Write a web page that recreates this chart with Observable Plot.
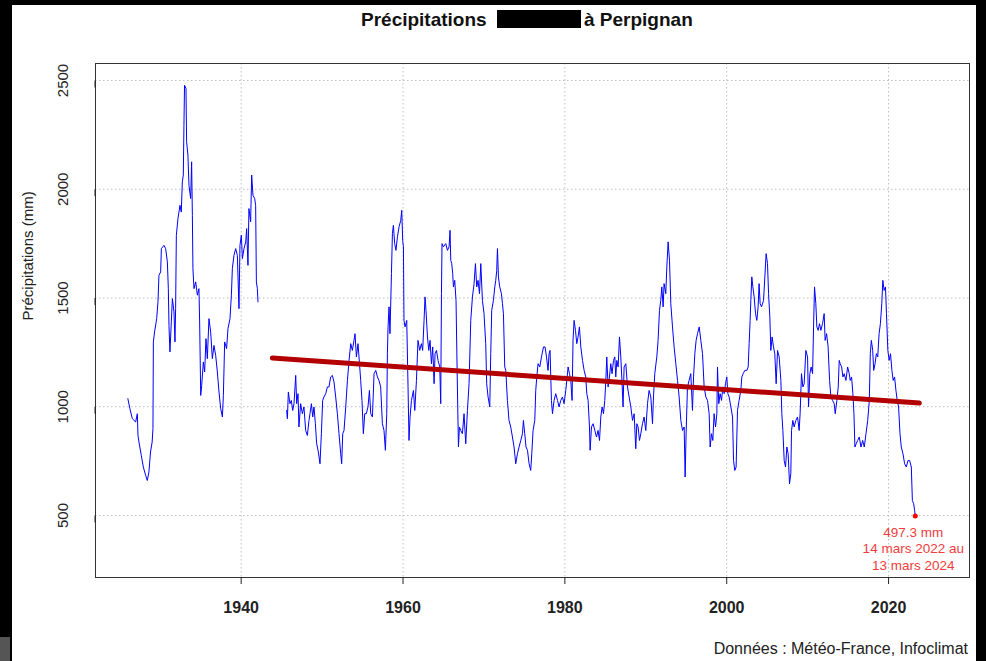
<!DOCTYPE html>
<html>
<head>
<meta charset="utf-8">
<script src="https://cdn.jsdelivr.net/npm/d3@7"></script>
<script src="https://cdn.jsdelivr.net/npm/@observablehq/plot@0.6"></script>
<style>
  html, body { margin: 0; padding: 0; }
  body { width: 986px; height: 661px; background: #000; position: relative; overflow: hidden;
         font-family: "Liberation Sans", Arial, Helvetica, sans-serif; }
  #panel { position: absolute; left: 12px; top: 5px; width: 964px; height: 656px; background: #fff; }
  #chart { position: absolute; left: 0; top: 0; }
  .t { position: absolute; font-weight: bold; font-size: 19px; line-height: 19px; color: #111; white-space: nowrap; }
  #box { position: absolute; background: #000; }
  #caption { position: absolute; font-size: 16px; line-height: 16px; color: #222; white-space: nowrap; }
  #corner { position: absolute; left: 0; top: 637px; width: 10px; height: 24px; background: #555; }
</style>
</head>
<body>
<div id="panel">
  <div id="chart"></div>
</div>
<div class="t" id="t1" style="left:361px; top:10px;"></div>
<div id="box" style="left:497px; top:10px; width:84px; height:18px;"></div>
<div class="t" id="t2" style="left:584px; top:10px;"></div>
<div id="caption" style="right:18px; top:641px;"></div>
<div id="corner"></div>
<script>
// ---- Data ----
const titleLeft = "Précipitations";
const titleRight = "à Perpignan";
const captionText = "Données : Météo-France, Infoclimat";
const yLabel = "Précipitations (mm)";
const xTicks = [1940, 1960, 1980, 2000, 2020];
const yTicks = [500, 1000, 1500, 2000, 2500];
const annotationLines = ["497.3 mm", "14 mars 2022 au", "13 mars 2024"];

// rolling 2-year precipitation (mm), first segment 1926–1942
const serie1 = [
[1926.0,1037],[1926.25,991],[1926.55,945],[1926.96,930],[1927.17,968],[1927.25,868],[1927.37,838],[1927.66,776],[1927.91,723],[1928.2,684],[1928.4,661],[1928.6,700],[1928.8,792],[1929.0,838],[1929.1,900],[1929.15,1298],[1929.3,1344],[1929.56,1405],[1929.72,1482],[1929.84,1604],[1930.05,1620],[1930.14,1727],[1930.46,1742],[1930.67,1727],[1930.88,1666],[1931.0,1543],[1931.08,1374],[1931.2,1252],[1931.37,1390],[1931.5,1497],[1931.7,1436],[1931.82,1298],[1931.9,1451],[1931.99,1788],[1932.19,1865],[1932.44,1926],[1932.6,1895],[1932.73,2034],[1932.85,2065],[1932.93,2294],[1933.0,2478],[1933.18,2463],[1933.26,2218],[1933.42,2157],[1933.55,2018],[1933.76,1957],[1933.88,2126],[1933.97,1880],[1934.04,1635],[1934.17,1543],[1934.38,1574],[1934.59,1513],[1934.78,1543],[1934.87,1390],[1935.0,1052],[1935.12,1098],[1935.33,1206],[1935.49,1160],[1935.65,1313],[1935.82,1221],[1936.02,1405],[1936.23,1344],[1936.44,1221],[1936.64,1282],[1936.85,1236],[1937.06,1160],[1937.26,1068],[1937.47,991],[1937.68,953],[1937.8,1052],[1937.96,1298],[1938.2,1267],[1938.37,1359],[1938.62,1405],[1938.79,1513],[1938.91,1635],[1939.11,1696],[1939.32,1727],[1939.53,1696],[1939.73,1451],[1939.85,1742],[1940.02,1788],[1940.15,1681],[1940.35,1727],[1940.56,1758],[1940.68,1819],[1940.84,1650],[1940.96,1911],[1941.17,1850],[1941.3,2065],[1941.46,1972],[1941.67,1957],[1941.79,1926],[1941.88,1574],[1942.0,1543],[1942.08,1482]
];

// second segment 1945–2024
const serie2 = [
[1945.62,983],[1945.71,945],[1945.83,1068],[1946.03,1014],[1946.2,1029],[1946.37,983],[1946.53,1014],[1946.74,1144],[1946.86,1014],[1947.02,1060],[1947.14,907],[1947.35,1014],[1947.56,968],[1947.76,999],[1947.97,891],[1948.18,868],[1948.38,937],[1948.5,968],[1948.68,1014],[1948.84,953],[1949.0,999],[1949.17,922],[1949.33,830],[1949.54,792],[1949.74,738],[1949.91,876],[1950.07,1029],[1950.23,1045],[1950.45,1060],[1950.65,1091],[1950.85,1091],[1951.06,1137],[1951.27,1144],[1951.47,1114],[1951.68,1045],[1951.89,968],[1952.09,876],[1952.3,784],[1952.42,738],[1952.55,876],[1952.71,891],[1952.92,999],[1953.13,1121],[1953.33,1213],[1953.54,1290],[1953.74,1259],[1953.94,1305],[1954.07,1336],[1954.24,1229],[1954.44,1290],[1954.65,1183],[1954.77,1121],[1954.93,1029],[1955.1,876],[1955.27,968],[1955.47,968],[1955.67,999],[1955.85,1075],[1956.01,968],[1956.22,953],[1956.42,1152],[1956.63,1167],[1956.84,1137],[1957.03,1121],[1957.24,1091],[1957.45,922],[1957.65,891],[1957.82,800],[1957.99,968],[1958.07,1244],[1958.15,1367],[1958.27,1459],[1958.39,1336],[1958.57,1612],[1958.69,1796],[1958.81,1834],[1958.97,1750],[1959.13,1719],[1959.31,1781],[1959.51,1827],[1959.72,1857],[1959.84,1903],[1959.96,1765],[1960.05,1735],[1960.12,1397],[1960.25,1367],[1960.46,1397],[1960.62,1091],[1960.74,845],[1960.87,953],[1961.04,1029],[1961.29,1075],[1961.45,983],[1961.66,1121],[1961.85,1305],[1962.06,1259],[1962.27,1290],[1962.43,1259],[1962.6,1397],[1962.72,1505],[1962.84,1443],[1963.02,1321],[1963.18,1259],[1963.34,1305],[1963.51,1198],[1963.67,1275],[1963.84,1106],[1963.96,1244],[1964.13,1259],[1964.33,1213],[1964.54,1183],[1964.66,1014],[1964.75,1520],[1964.82,1750],[1964.99,1735],[1965.28,1750],[1965.49,1719],[1965.69,1735],[1965.81,1811],[1965.9,1673],[1966.02,1658],[1966.14,1612],[1966.23,1551],[1966.39,1581],[1966.55,1489],[1966.72,1091],[1966.85,815],[1966.97,907],[1967.13,891],[1967.34,876],[1967.54,968],[1967.75,830],[1967.96,983],[1968.16,1106],[1968.37,1397],[1968.58,1505],[1968.78,1566],[1968.95,1658],[1969.11,1551],[1969.27,1581],[1969.45,1520],[1969.61,1658],
[1969.81,1489],[1970.01,1428],[1970.22,1290],[1970.34,1106],[1970.51,1045],[1970.72,999],[1970.84,1244],[1970.96,1443],[1971.17,1489],[1971.34,1551],[1971.46,1581],[1971.58,1627],[1971.67,1727],[1971.79,1597],[1971.95,1551],[1972.16,1520],[1972.29,1474],[1972.41,1428],[1972.57,1183],[1972.7,1167],[1972.9,1029],[1973.1,937],[1973.31,907],[1973.52,861],[1973.72,815],[1973.93,738],[1974.14,784],[1974.34,815],[1974.55,845],[1974.76,876],[1974.88,937],[1975.04,876],[1975.2,815],[1975.38,800],[1975.58,738],[1975.78,707],[1975.91,784],[1976.07,891],[1976.28,937],[1976.4,1075],[1976.53,1137],[1976.69,1198],[1976.9,1183],[1977.11,1229],[1977.36,1275],[1977.55,1275],[1977.73,1229],[1977.92,1167],[1978.05,1244],[1978.17,1259],[1978.34,1029],[1978.47,968],[1978.67,1029],[1978.87,1060],[1979.09,1029],[1979.28,999],[1979.49,1029],[1979.7,1045],[1979.9,1014],[1980.11,1075],[1980.24,1121],[1980.4,1183],[1980.57,1152],[1980.73,1121],[1980.89,1029],[1981.01,1305],[1981.14,1397],[1981.31,1351],[1981.47,1290],[1981.63,1321],[1981.8,1367],[1981.97,1275],[1982.18,1213],[1982.38,1167],[1982.58,1137],[1982.71,1060],[1982.87,1029],[1983.04,907],[1983.12,800],[1983.29,907],[1983.49,922],[1983.7,891],[1983.91,861],[1984.1,891],[1984.28,845],[1984.44,953],[1984.6,999],[1984.77,968],[1984.93,1029],[1985.06,1121],[1985.18,1229],[1985.34,1091],[1985.51,1137],[1985.67,1198],[1985.83,1152],[1986.01,1213],[1986.17,1229],[1986.29,1137],[1986.42,1213],[1986.58,1183],[1986.75,1321],[1986.91,1229],[1987.07,1106],[1987.19,999],[1987.32,1183],[1987.53,1198],[1987.74,1091],[1987.94,1045],[1988.15,999],[1988.36,937],[1988.56,968],[1988.76,807],[1988.89,922],[1989.05,907],[1989.22,845],[1989.38,876],[1989.59,922],[1989.79,953],[1990.0,891],[1990.21,1014],[1990.41,1075],[1990.62,1045],[1990.83,922],[1990.95,1045],[1991.11,1152],[1991.36,1229],[1991.52,1305],[1991.69,1443],[1991.85,1489],[1991.98,1551],[1992.14,1459],[1992.26,1566],[1992.47,1520],[1992.6,1643],[1992.76,1758],[1992.93,1673],[1993.09,1474],[1993.3,1367],[1993.5,1275],[1993.71,1198],[1993.92,1121],[1994.12,1045],[1994.33,937],[1994.54,891],[1994.74,907],[1994.86,677],[1994.98,876],[1995.15,1091],[1995.35,1121],[1995.56,1152],[1995.77,983],[1995.9,1137],[1996.06,1244],[1996.22,1305],[1996.39,1336],[1996.6,1367],
[1996.8,1305],[1997.01,1244],[1997.21,1091],[1997.42,1045],[1997.63,1029],[1997.83,968],[1997.95,815],[1998.12,876],[1998.28,845],[1998.44,968],[1998.62,907],[1998.78,968],[1998.86,1183],[1999.02,1014],[1999.18,1060],[1999.36,1029],[1999.52,1091],[1999.68,1060],[1999.85,1106],[2000.01,1137],[2000.14,1060],[2000.3,1045],[2000.51,999],[2000.72,953],[2000.84,753],[2001.0,707],[2001.16,723],[2001.33,983],[2001.53,1029],[2001.74,1075],[2001.87,1137],[2002.03,1152],[2002.24,1167],[2002.49,1167],[2002.65,1183],[2002.77,1290],[2002.89,1397],[2002.98,1489],[2003.1,1597],[2003.23,1551],[2003.39,1505],[2003.56,1428],[2003.72,1397],[2003.88,1459],[2004.0,1566],[2004.13,1474],[2004.3,1459],[2004.55,1489],[2004.71,1597],[2004.87,1704],[2005.04,1658],[2005.17,1520],[2005.33,1413],[2005.45,1259],[2005.61,1321],[2005.78,1275],[2005.94,1244],[2006.11,1106],[2006.28,1259],[2006.48,1229],[2006.69,1121],[2006.81,968],[2006.94,891],[2007.1,753],[2007.27,723],[2007.43,815],[2007.59,784],[2007.76,646],[2007.92,692],[2008.01,891],[2008.17,937],[2008.33,907],[2008.54,937],[2008.75,953],[2008.95,891],[2009.07,968],[2009.24,1152],[2009.41,1091],[2009.57,1106],[2009.78,1259],[2009.99,1229],[2010.11,999],[2010.27,1152],[2010.43,1183],[2010.61,1152],[2010.73,1367],[2010.85,1551],[2011.01,1474],[2011.14,1367],[2011.3,1351],[2011.47,1382],[2011.63,1351],[2011.84,1382],[2012.04,1428],[2012.16,1305],[2012.34,1336],[2012.53,1275],[2012.71,1121],[2012.87,1045],[2013.08,1029],[2013.28,1014],[2013.41,968],[2013.61,1029],[2013.78,1091],[2013.9,1213],[2014.02,1198],[2014.2,1183],[2014.36,1137],[2014.52,1152],[2014.73,1121],[2014.94,1183],[2015.14,1152],[2015.26,1121],[2015.43,1137],[2015.59,1060],[2015.72,968],[2015.84,815],[2016.0,830],[2016.18,845],[2016.38,861],[2016.59,815],[2016.8,845],[2017.0,815],[2017.21,876],[2017.42,937],[2017.62,1029],[2017.74,1244],[2017.87,1305],[2018.04,1259],[2018.16,1167],[2018.33,1198],[2018.49,1244],[2018.66,1229],[2018.83,1336],[2018.99,1382],[2019.16,1474],[2019.29,1581],[2019.45,1535],[2019.62,1551],[2019.74,1428],[2019.91,1259],[2020.07,1213],[2020.24,1244],[2020.41,1167],[2020.57,1121],[2020.74,1137],[2020.91,1075],[2021.07,1029],[2021.24,999],[2021.41,876],[2021.57,815],[2021.78,784],[2021.98,738],[2022.19,723],[2022.4,753],[2022.6,753],[2022.81,723],[2022.94,569],[2023.1,554],[2023.22,523],[2023.3,497.3]
];

// linear trend (start, end)
const trendYears = [1943.86, 2023.8];
const trendValues = [1224, 1017];

// last value
const lastPoint = [2023.3, 497.3];

// ---- Build ----
const trend = trendYears.map((x, i) => [x, trendValues[i]]);
const FONT = '"Liberation Sans", Arial, Helvetica, sans-serif';

const chart = Plot.plot({
  width: 964,
  height: 656,
  marginLeft: 83,
  marginRight: 7,
  marginTop: 58,
  marginBottom: 84,
  x: {domain: [1922, 2030]},
  y: {domain: [215, 2578]},
  style: {fontFamily: FONT, background: "white", color: "#222", overflow: "visible"},
  marks: [
    Plot.gridX(xTicks, {stroke: "#bdbdbd", strokeOpacity: 1, strokeDasharray: "1.5,2.5"}),
    Plot.gridY(yTicks, {stroke: "#bdbdbd", strokeOpacity: 1, strokeDasharray: "1.5,2.5"}),
    Plot.line(serie1, {x: d => d[0], y: d => d[1], stroke: "#0000ff", strokeWidth: 1}),
    Plot.line(serie2, {x: d => d[0], y: d => d[1], stroke: "#0000ff", strokeWidth: 1}),
    Plot.line(trend, {x: d => d[0], y: d => d[1], stroke: "#b30000", strokeWidth: 5}),
    Plot.dot([lastPoint], {x: d => d[0], y: d => d[1], r: 2.5, fill: "#ff0000", stroke: "none"}),
    Plot.text([lastPoint], {x: d => d[0], y: d => d[1], text: () => annotationLines.join("\n"),
      dx: -2, dy: 32, lineAnchor: "middle", lineHeight: 1.22, fontSize: 13.5, fill: "#f03c3c"}),
    Plot.frame({stroke: "#333"}),
    Plot.axisY({ticks: yTicks, tickSize: 7, tickPadding: 25, rotate: -90, textAnchor: "middle",
      fontSize: 15, label: null, tickFormat: d => String(d)}),
    Plot.axisX({ticks: xTicks, tickSize: 7, tickPadding: 17, fontSize: 16, fontWeight: "bold",
      label: null, tickFormat: d => String(d)}),
    Plot.text([yLabel], {frameAnchor: "left", rotate: -90, dx: -67, fontSize: 15, fill: "#222"})
  ]
});
document.getElementById("chart").appendChild(chart);
document.getElementById("t1").textContent = titleLeft;
document.getElementById("t2").textContent = titleRight;
document.getElementById("caption").textContent = captionText;
</script>
</body>
</html>
